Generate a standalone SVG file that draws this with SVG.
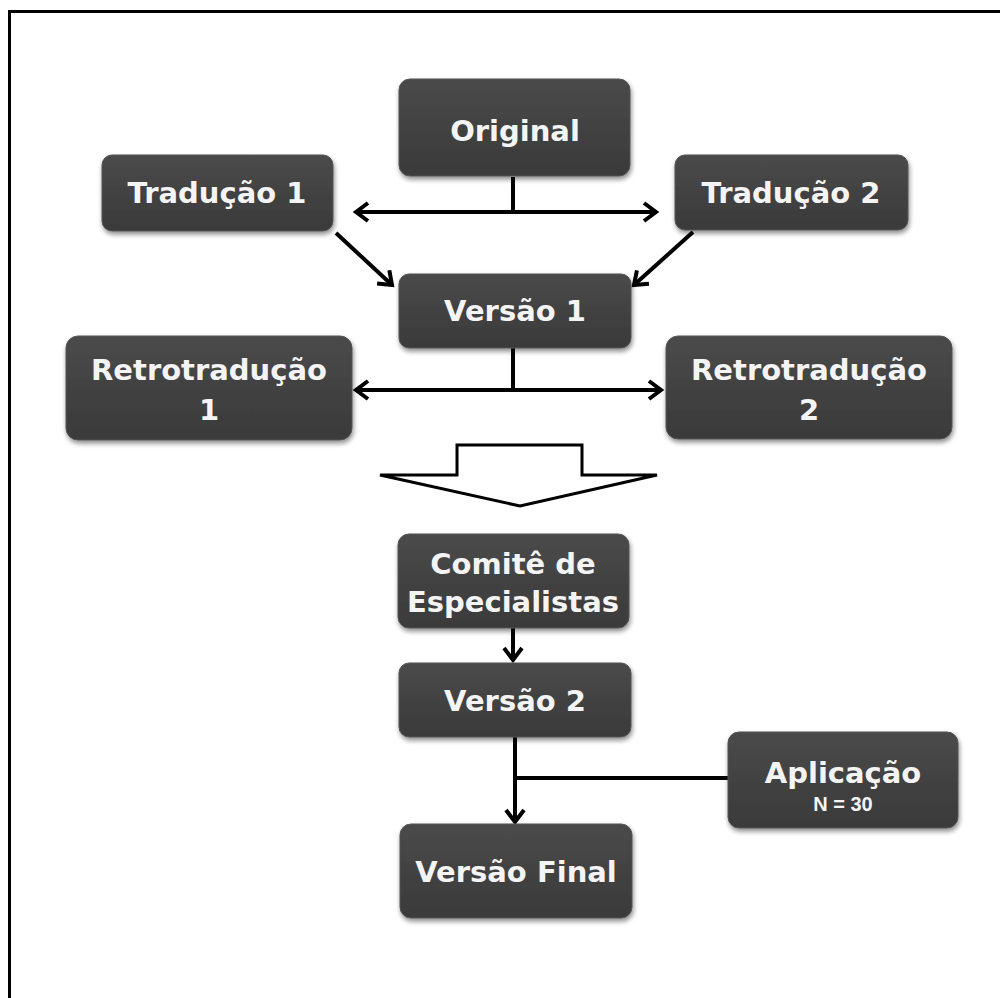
<svg xmlns="http://www.w3.org/2000/svg" width="1000" height="998" viewBox="0 0 1000 998">
<defs>
<linearGradient id="g" x1="0" y1="0" x2="0" y2="1">
<stop offset="0" stop-color="#4a4a4a"/>
<stop offset="1" stop-color="#3a3a3a"/>
</linearGradient>
<filter id="sh" x="-10%" y="-10%" width="125%" height="130%">
<feGaussianBlur in="SourceAlpha" stdDeviation="2.5"/>
<feOffset dx="1" dy="3" result="b"/>
<feComponentTransfer><feFuncA type="linear" slope="0.45"/></feComponentTransfer>
<feMerge><feMergeNode/><feMergeNode in="SourceGraphic"/></feMerge>
</filter>
<marker id="ah" markerUnits="userSpaceOnUse" markerWidth="24" markerHeight="24" viewBox="0 0 24 24" refX="20" refY="12" orient="auto">
<path d="M8,3 L20,12 L8,21" fill="none" stroke="#000" stroke-width="4" stroke-linejoin="miter"/>
</marker>
</defs>
<style>
.box{fill:url(#g);stroke:#555;stroke-width:1;filter:url(#sh)}
.t{font-family:"DejaVu Sans",sans-serif;font-weight:bold;fill:#f4f4f4;text-anchor:middle;font-size:29px}
.s{font-size:20px;font-family:"Liberation Sans",sans-serif}
.c{fill:none;stroke:#000;stroke-width:4}
</style>
<rect x="9.5" y="11.5" width="1100" height="1100" fill="#fff" stroke="#000" stroke-width="3"/>
<g id="connectors">
<path class="c" d="M513,177 V212"/>
<path class="c" d="M513,212 H356" marker-end="url(#ah)"/>
<path class="c" d="M513,212 H656" marker-end="url(#ah)"/>
<path class="c" d="M336,233 L392,285" marker-end="url(#ah)"/>
<path class="c" d="M693,232 L634,285" marker-end="url(#ah)"/>
<path class="c" d="M513,348 V390"/>
<path class="c" d="M513,390 H356" marker-end="url(#ah)"/>
<path class="c" d="M513,390 H661" marker-end="url(#ah)"/>
<path class="c" d="M513,628 V660" marker-end="url(#ah)"/>
<path class="c" d="M515,737 V822" marker-end="url(#ah)"/>
<path class="c" d="M515,778 H728"/>
<path d="M457,445 H582 V475 H657 L520,506 L380,475 H457 Z" fill="#fff" stroke="#000" stroke-width="3" stroke-linejoin="miter"/>
</g>
<g id="original"><rect class="box" x="399" y="79" width="231" height="97" rx="11"/><text class="t" x="515" y="141">Original</text></g>
<g id="traducao1"><rect class="box" x="102" y="155" width="231" height="76" rx="10"/><text class="t" x="217" y="203">Tradução 1</text></g>
<g id="traducao2"><rect class="box" x="675" y="155" width="233" height="75" rx="10"/><text class="t" x="791" y="203">Tradução 2</text></g>
<g id="versao1"><rect class="box" x="399" y="274" width="232" height="74" rx="10"/><text class="t" x="515" y="321">Versão 1</text></g>
<g id="retro1"><rect class="box" x="66" y="336" width="286" height="104" rx="12"/><text class="t" x="209" y="380">Retrotradução</text><text class="t" x="209" y="420">1</text></g>
<g id="retro2"><rect class="box" x="666" y="336" width="286" height="103" rx="12"/><text class="t" x="809" y="380">Retrotradução</text><text class="t" x="809" y="420">2</text></g>
<g id="comite"><rect class="box" x="398" y="534" width="231" height="94" rx="11"/><text class="t" x="513" y="574">Comitê de</text><text class="t" x="513" y="612">Especialistas</text></g>
<g id="versao2"><rect class="box" x="399" y="663" width="232" height="74" rx="10"/><text class="t" x="515" y="711">Versão 2</text></g>
<g id="aplicacao"><rect class="box" x="728" y="732" width="230" height="96" rx="11"/><text class="t" x="843" y="783">Aplicação</text><text class="t s" x="843" y="811">N = 30</text></g>
<g id="versaofinal"><rect class="box" x="400" y="824" width="232" height="94" rx="11"/><text class="t" x="516" y="882">Versão Final</text></g>
</svg>
